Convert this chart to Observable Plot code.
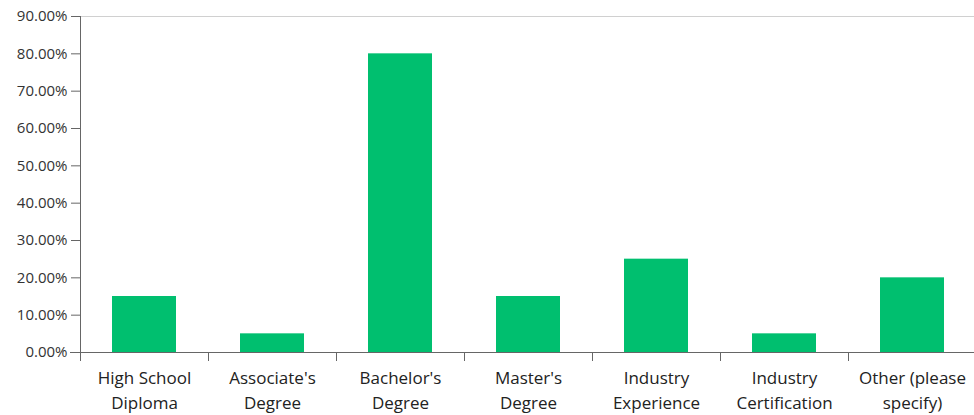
<!DOCTYPE html>
<html>
<head>
<meta charset="utf-8">
<script src="https://cdn.jsdelivr.net/npm/d3@7"></script>
<script src="https://cdn.jsdelivr.net/npm/@observablehq/plot@0.6"></script>
<style>
  html, body { margin: 0; padding: 0; background: #fff; }
</style>
</head>
<body>
<div id="chart"></div>
<script>
const categories = ["High School\nDiploma", "Associate's\nDegree", "Bachelor's\nDegree", "Master's\nDegree", "Industry\nExperience", "Industry\nCertification", "Other (please\nspecify)"];
const values = [15, 5, 80, 15, 25, 5, 20];
const yTicks = [0, 10, 20, 30, 40, 50, 60, 70, 80, 90];

const data = categories.map((c, i) => ({category: c, value: values[i]}));

const W = 974, H = 415;
const mL = 80, mR = -2, mT = 16, mB = 63;
const step = (W - mL - mR) / categories.length;
const innerH = H - mT - mB;
const font = "'Open Sans', sans-serif";

const chart = Plot.plot({
  width: W,
  height: H,
  marginLeft: mL,
  marginRight: mR,
  marginTop: mT,
  marginBottom: mB,
  style: {fontFamily: font, color: "#333", background: "#fff", overflow: "hidden"},
  x: {domain: categories, paddingInner: 0.5, paddingOuter: 0.25},
  y: {domain: [0, 90]},
  marks: [
    Plot.frame({anchor: "top", stroke: "#d0d0d0"}),
    Plot.barY(data, {x: "category", y: "value", fill: "#00bf6f"}),
    Plot.frame({anchor: "left", stroke: "#666", insetBottom: -8}),
    Plot.frame({anchor: "bottom", stroke: "#666", insetLeft: -10}),
    Plot.ruleX(categories, {x: d => d, dx: step / 2, stroke: "#666", insetTop: innerH, insetBottom: -9}),
    Plot.axisY({ticks: yTicks, tickSize: 9, tickPadding: 4, stroke: "#666", tickFormat: d => d.toFixed(2) + "%", fontSize: 15, fill: "#333", label: null}),
    Plot.axisX({tickSize: 0, tickPadding: 13, fontSize: 17, lineHeight: 1.5, fill: "#222", label: null})
  ]
});
document.getElementById("chart").appendChild(chart);
</script>
</body>
</html>
